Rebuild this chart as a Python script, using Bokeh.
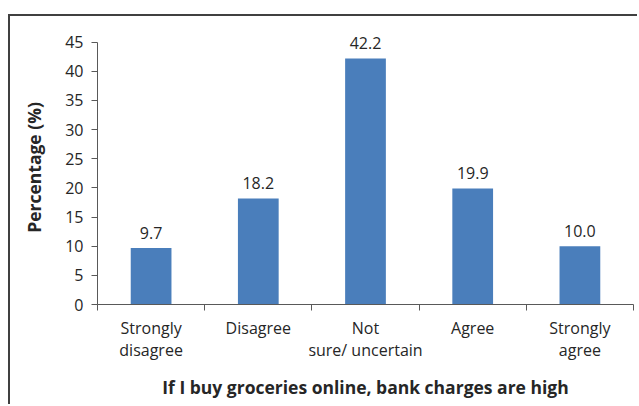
from bokeh.plotting import figure
from bokeh.models import FixedTicker, Range1d, ColumnDataSource
from bokeh.core.properties import value
from bokeh.embed import file_html
from bokeh.resources import INLINE
import numpy as np

categories = ["Strongly\ndisagree", "Disagree", "Not\nsure/ uncertain", "Agree", "Strongly\nagree"]
values = [9.7, 18.2, 42.2, 19.9, 10.0]
value_labels = ["9.7", "18.2", "42.2", "19.9", "10.0"]
y_ticks = [0, 5, 10, 15, 20, 25, 30, 35, 40, 45]
x_title = "If I buy groceries online, bank charges are high"
y_title = "Percentage (%)"

FONT = "Open Sans"
TXT = "#262626"

xs = list(np.arange(1, len(categories) + 1))
src = ColumnDataSource(dict(x=xs, top=values, lab=value_labels))

p = figure(width=629, height=390, output_backend="svg", toolbar_location=None,
           x_range=Range1d(0.5, len(categories) + 0.5), y_range=Range1d(0, 47),
           min_border_left=87, min_border_right=6, min_border_top=14, min_border_bottom=102)
p.styles = {"margin-left": "8px", "margin-top": "14px",
            "border-left": "2px solid #404040", "border-top": "2px solid #404040"}
p.outline_line_color = None
p.grid.visible = False
p.background_fill_color = "white"
p.border_fill_color = "white"

p.vbar(x="x", top="top", width=0.38, source=src, fill_color="#4A7EBB", line_color=None)
p.text(x="x", y="top", text="lab", source=src, text_align="center", text_baseline="alphabetic",
       y_offset=-15, text_font=value(FONT), text_font_size="16px", text_color=TXT)

# y axis
ya = p.yaxis[0]
ya.ticker = FixedTicker(ticks=y_ticks)
ya.bounds = (y_ticks[0], y_ticks[-1])
ya.minor_tick_line_color = None
ya.major_tick_in = 0
ya.major_tick_out = 6
ya.axis_line_color = "#595959"
ya.major_tick_line_color = "#595959"
ya.major_label_text_font = FONT
ya.major_label_text_font_size = "16px"
ya.major_label_text_color = TXT
ya.major_label_standoff = 8
ya.axis_label = y_title
ya.axis_label_text_font = FONT
ya.axis_label_text_font_style = "bold"
ya.axis_label_text_font_size = "17.5px"
ya.axis_label_text_color = TXT
ya.axis_label_standoff = 16

# x axis
xa = p.xaxis[0]
bounds = [i + 0.5 for i in range(len(categories) + 1)]
xa.ticker = FixedTicker(ticks=xs, minor_ticks=bounds)
xa.major_tick_line_color = None
xa.minor_tick_in = 0
xa.minor_tick_out = 6
xa.minor_tick_line_color = "#595959"
xa.axis_line_color = "#595959"
xa.major_label_overrides = {int(x): c for x, c in zip(xs, categories)}
xa.major_label_text_font = FONT
xa.major_label_text_font_size = "16px"
xa.major_label_text_color = TXT
xa.major_label_text_line_height = 1.0
xa.major_label_standoff = 6
xa.axis_label = x_title
xa.axis_label_text_font = FONT
xa.axis_label_text_font_style = "bold"
xa.axis_label_text_font_size = "17.5px"
xa.axis_label_text_color = TXT
xa.axis_label_standoff = 11

open("out.html", "w").write(file_html(p, INLINE))
